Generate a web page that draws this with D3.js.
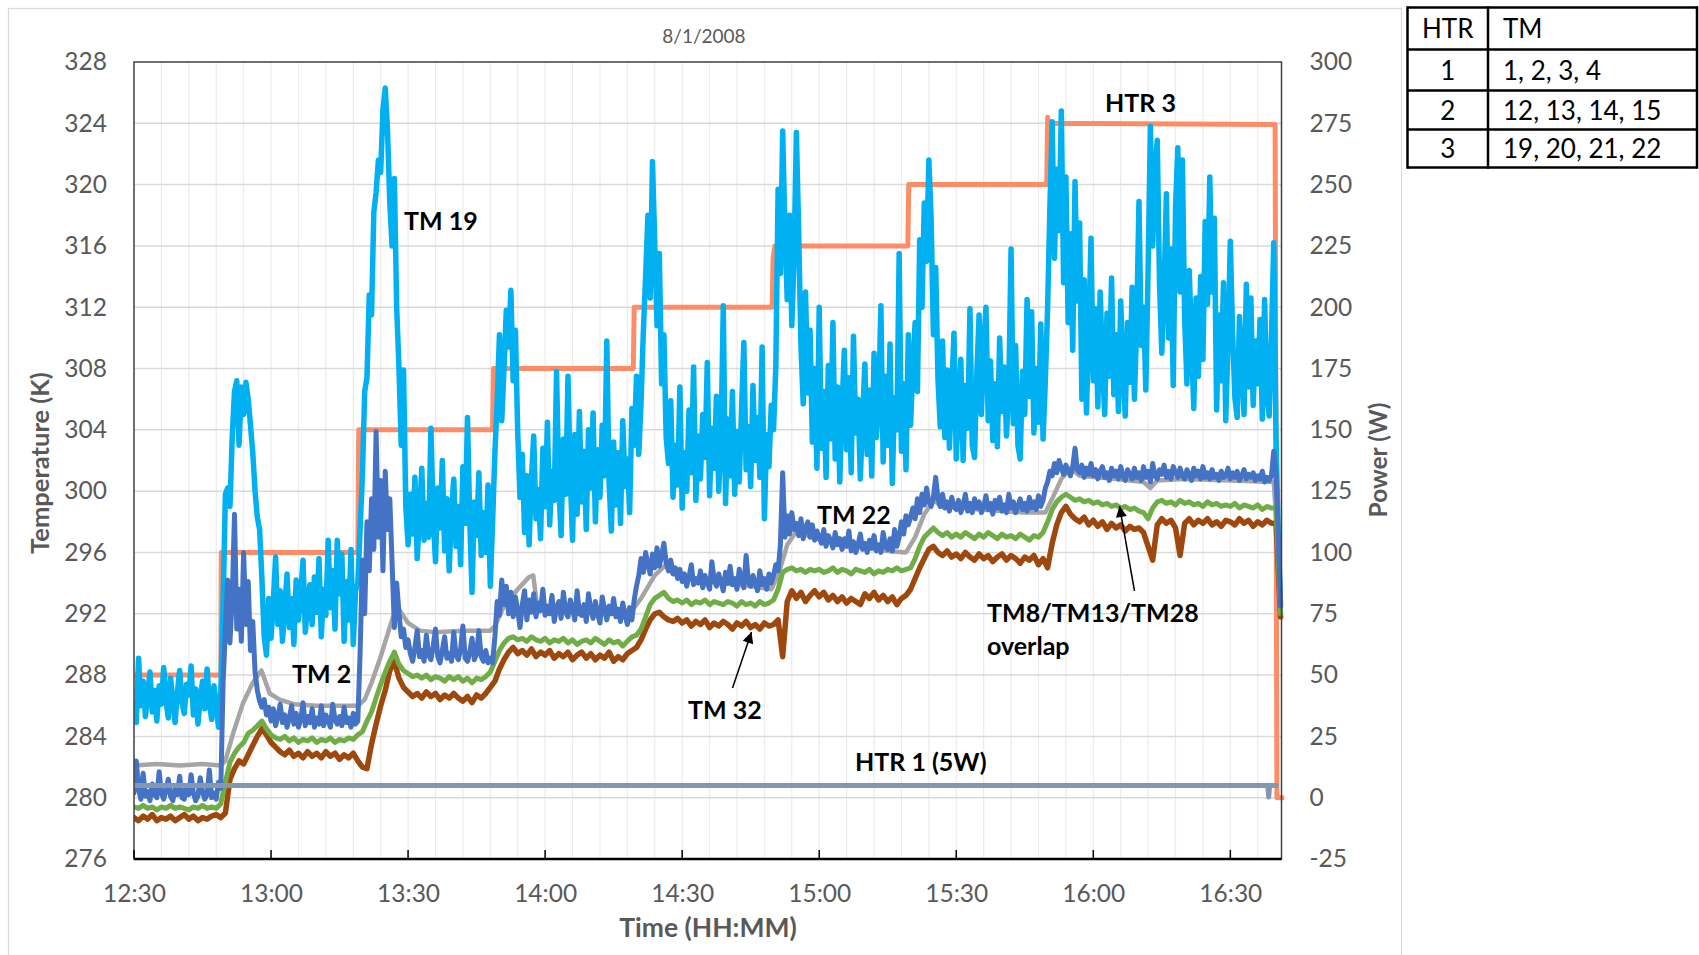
<!DOCTYPE html>
<html><head><meta charset="utf-8">
<script src="https://cdn.jsdelivr.net/npm/d3@7"></script>
<style>
html,body{margin:0;padding:0;background:#fff;}
svg{display:block;}
</style></head><body>
<svg id="chart" width="1699" height="955"></svg>
<script>
// ---------------- DATA ----------------
const chartTitle = "8/1/2008";
const tempTicks = [276,280,284,288,292,296,300,304,308,312,316,320,324,328];
const powerTicks = [-25,0,25,50,75,100,125,150,175,200,225,250,275,300];
const timeTickLabels = ["12:30","13:00","13:30","14:00","14:30","15:00","15:30","16:00","16:30"];
const startClock = [12,30];          // 12:30
const endMinute = 251.2;             // axis end (minutes after 12:30)

// TM 19 (K): each row = 5 minutes, samples every 0.5 min
const tm19Rows = [
[286.2,284.9,289.1,286.0,287.6,285.3,286.8,288.2,285.6,287.0],
[285.0,287.3,286.1,288.5,286.4,285.2,287.8,286.3,284.9,286.9],
[288.3,286.2,285.5,287.4,286.7,288.6,285.4,287.1,284.8,286.5],
[287.6,285.8,288.4,286.2,285.1,287.3,286.0,284.6,287.0,292.5],
[299.8,300.2,299.0,303.5,306.5,307.2,303.0,306.8,305.0,307.1],
[306.0,304.3,302.5,300.0,298.3,297.5,294.3,290.5,289.3,293.0],
[290.4,292.8,295.7,291.3,293.5,290.2,292.4,294.6,291.1,293.0],
[290.0,294.2,291.6,293.3,295.5,290.8,292.6,293.9,291.3,294.4],
[292.1,295.6,290.5,293.6,291.9,296.8,292.4,294.8,291.0,296.8],
[293.3,295.9,290.2,294.1,291.6,296.2,290.0,293.5,294.0,297.5],
[301.0,306.5,307.4,312.8,311.5,318.2,319.5,321.6,320.8,324.9],
[326.3,323.5,318.8,316.0,320.4,312.0,308.1,303.0,307.9,299.0],
[296.5,299.8,297.2,300.9,295.6,298.4,301.5,296.8,299.2,297.0],
[304.1,298.3,295.4,300.2,297.6,302.0,296.1,299.5,294.8,298.7],
[300.8,296.4,299.0,295.2,301.6,297.9,304.8,298.1,293.4,299.3],
[297.1,301.2,295.8,298.6,296.0,300.4,293.8,298.0,302.5,305.8],
[310.2,304.6,308.0,311.8,309.4,313.1,307.2,310.5,303.8,299.6],
[302.4,297.3,301.0,296.5,300.8,303.6,298.2,300.1,296.9,302.8],
[299.0,304.5,297.8,301.3,299.4,307.8,300.2,297.1,303.4,299.8],
[307.5,301.0,296.8,303.7,298.5,305.2,299.3,302.6,297.5,304.0],
[300.2,305.1,298.0,302.7,299.6,304.3,301.0,309.8,300.5,297.4],
[303.2,299.1,302.5,297.9,304.6,300.3,302.1,298.6,305.4,303.0],
[307.5,302.4,305.8,310.4,314.0,318.0,312.6,321.5,316.2,310.8],
[315.5,307.0,310.2,303.5,301.8,305.9,299.6,303.0,300.4,306.8],
[298.9,302.5,300.0,305.3,301.2,308.1,299.4,303.6,300.8,305.0],
[302.2,308.4,299.7,304.1,301.5,306.2,300.0,303.3,312.1,299.2],
[304.7,301.0,306.5,299.8,303.9,300.6,305.4,309.7,301.4,304.2],
[300.3,306.9,302.0,304.8,300.9,309.4,298.2,303.7,301.6,305.6],
[304.0,308.1,319.7,314.2,323.5,317.0,312.5,318.0,310.8,315.2],
[323.4,317.0,309.5,305.7,313.0,306.4,310.5,303.2,308.0,301.5],
[312.0,302.8,306.5,300.9,308.2,303.4,311.0,302.1,306.8,300.6],
[305.5,309.2,302.7,307.4,301.2,310.1,303.8,306.0,300.8,304.9],
[308.3,302.4,306.6,301.0,309.0,303.5,305.7,312.1,301.9,307.5],
[303.0,309.6,300.5,306.1,304.0,315.5,302.6,307.0,301.4,310.2],
[304.3,308.0,311.0,306.5,316.4,312.0,318.8,315.0,321.6,317.8],
[310.2,314.6,307.3,304.2,309.8,303.5,307.9,302.8,306.5,310.3],
[302.1,305.8,308.6,302.0,306.9,304.1,311.9,303.0,302.2,307.6],
[311.5,305.0,309.3,312.0,304.6,308.5,303.3,307.0,302.9,310.0],
[305.2,308.1,303.6,306.7,315.8,304.4,309.5,303.0,302.1,307.8],
[305.0,312.5,306.2,311.7,303.8,308.0,304.5,310.9,303.4,307.2],
[312.0,318.5,324.1,315.2,321.0,317.0,324.8,313.6,320.5,311.0],
[316.8,309.2,320.2,312.4,317.5,306.0,313.8,305.1,310.5,316.5],
[307.2,311.9,305.5,313.0,308.4,305.0,311.6,307.5,313.9,306.3],
[310.2,305.2,312.4,308.0,304.9,311.0,307.1,313.3,306.0,310.8],
[318.9,309.5,312.0,306.6,314.5,323.8,316.0,320.9,322.9,313.5],
[309.0,313.2,319.4,310.0,315.8,306.9,318.5,322.4,313.0,321.6],
[311.2,307.0,314.4,309.8,305.4,312.6,307.5,314.0,308.6,317.6],
[312.2,320.5,313.0,317.8,305.3,311.5,307.2,313.6,304.6,309.9],
[316.3,310.2,306.1,304.8,311.4,308.0,305.0,313.5,306.8,312.6],
[305.6,309.8,307.0,311.2,304.7,312.5,306.4,304.9,310.0,316.2],
[303.5,297.0,292.5]
];

// TM 22 (K): each row = 5 minutes, samples every 0.5 min
const tm22Rows = [
[280.3,282.4,280.6,279.9,281.6,280.1,280.4,279.8,280.9,280.2],
[280.0,281.7,280.3,279.9,280.5,281.2,280.1,279.8,280.6,280.2],
[281.4,280.0,279.9,280.7,280.2,281.5,280.3,279.8,280.1,281.3],
[280.4,279.9,280.2,281.8,280.0,280.3,279.9,281.0,280.6,287.5],
[290.9,294.2,290.1,293.0,298.5,291.0,293.6,290.2,296.0,291.3],
[294.1,289.6,291.5,288.2,287.0,286.3,285.9,286.4,285.4,285.9],
[285.0,285.8,284.7,285.3,286.1,284.9,285.4,284.6,285.2,286.0],
[284.8,285.5,284.6,285.1,286.2,284.7,285.3,284.9,285.8,284.6],
[285.2,284.8,286.0,284.7,285.4,285.0,284.6,286.1,285.1,284.8],
[285.3,284.7,285.9,284.9,285.2,284.6,285.5,284.8,285.0,289.5],
[295.5,292.0,298.0,294.8,299.5,296.2,303.9,297.0,300.7,294.8],
[301.3,297.5,299.5,295.3,291.1,294.0,292.1,290.5,291.0,289.8],
[290.3,289.4,288.9,289.8,290.9,289.2,289.6,288.9,290.6,289.3],
[289.0,289.9,291.0,289.2,288.8,289.6,290.5,289.1,289.4,288.9],
[290.8,289.3,289.0,289.7,291.2,289.1,288.9,289.5,290.4,289.0],
[289.4,290.9,289.2,288.9,289.6,288.8,289.1,288.8,290.5,292.8],
[291.9,294.2,292.6,293.8,292.0,293.4,291.8,293.1,292.2,291.1],
[292.6,293.5,291.6,292.9,292.1,293.3,291.8,292.7,292.2,293.6],
[291.9,292.5,292.0,293.2,291.5,292.4,292.8,291.7,293.4,292.1],
[291.8,292.9,292.3,291.6,293.5,292.0,291.9,292.6,291.5,293.3],
[292.2,291.7,292.8,292.0,291.4,293.1,292.3,291.6,292.5,292.0],
[293.0,291.8,292.3,291.5,292.7,291.9,291.3,292.4,291.6,292.9],
[293.8,294.5,295.6,294.7,296.0,295.2,294.6,295.9,295.0,296.3],
[295.1,295.8,296.6,295.3,294.8,295.5,294.6,295.0,294.3,294.9],
[294.1,294.6,293.8,294.4,295.2,293.9,294.3,294.0,294.8,293.7],
[294.5,294.0,293.6,295.4,294.2,293.8,294.6,294.1,293.5,294.7],
[294.0,295.1,293.9,294.3,293.6,294.9,294.2,293.7,295.8,294.1],
[293.8,294.5,294.0,293.5,294.8,293.9,294.3,293.6,294.6,294.0],
[294.5,295.2,294.8,296.5,301.2,297.0,298.4,297.2,298.6,297.5],
[297.9,297.1,298.2,296.9,297.6,298.0,297.0,297.8,296.8,297.4],
[297.0,296.6,297.5,296.4,297.1,296.8,296.3,297.3,296.5,296.9],
[296.2,296.9,296.4,297.4,296.1,296.7,296.0,296.5,297.2,296.2],
[296.6,296.0,296.8,296.3,297.1,296.1,296.5,296.0,297.3,296.4],
[296.2,296.9,296.1,297.5,296.4,297.0,298.0,297.2,298.4,297.8],
[298.3,298.9,298.2,299.5,298.6,299.8,299.1,300.2,299.3,299.0],
[299.6,300.9,299.5,299.0,299.8,298.9,299.3,298.7,299.6,299.0],
[298.8,299.4,298.6,299.1,299.8,298.7,299.2,298.6,299.5,298.9],
[299.3,298.6,299.0,299.7,298.8,299.2,298.5,299.4,298.9,299.6],
[298.7,299.1,298.6,299.8,298.9,299.3,298.6,299.0,299.5,298.8],
[299.2,298.7,299.6,298.9,299.3,298.8,299.7,299.0,299.4,300.2],
[300.6,301.3,301.0,301.8,301.2,302.0,301.5,301.1,301.7,301.3],
[301.0,301.6,302.8,301.4,301.2,301.7,300.9,301.5,301.1,301.8],
[301.0,301.4,300.8,301.3,301.6,300.9,301.2,300.7,301.5,301.0],
[301.3,300.8,301.6,301.0,300.7,301.4,301.1,300.8,301.5,300.9],
[301.2,300.7,301.6,300.9,301.3,300.6,301.8,301.0,300.8,301.4],
[301.1,301.7,300.9,301.3,300.8,301.6,301.2,300.9,301.5,301.0],
[300.8,301.4,301.1,300.7,301.5,301.0,301.3,300.8,301.6,300.9],
[301.2,300.8,301.4,300.9,301.1,300.7,301.3,300.9,301.0,301.5],
[300.8,301.2,300.9,301.3,300.7,301.0,301.4,300.8,301.1,300.9],
[301.2,300.7,301.0,300.8,301.3,300.6,300.9,300.7,301.0,302.6],
[301.0,297.0,292.5]
];

// TM8/TM13/TM28 (overlapping, K): each row = 10 minutes, samples every 1 min
const tm8Rows = [
[279.4,279.3,279.5,279.3,279.4,279.2,279.4,279.3,279.5,279.3],
[279.4,279.3,279.2,279.4,279.3,279.5,279.3,279.4,279.3,279.6],
[281.0,282.3,282.9,283.3,283.6,284.2,284.4,284.7,285.0,284.5],
[284.1,283.9,283.8,284.0,283.7,283.9,283.6,283.8,283.7,283.9],
[283.6,283.8,283.7,283.9,283.6,283.8,283.7,283.9,283.8,284.1],
[284.3,285.0,285.6,286.5,287.4,288.2,288.9,289.5,288.7,288.3],
[288.1,287.9,288.0,287.8,288.0,287.7,287.9,287.8,287.6,287.9],
[287.7,287.9,287.6,287.8,287.5,287.8,287.7,287.9,288.2,288.9],
[289.6,290.1,290.4,290.5,290.3,290.4,290.2,290.5,290.3,290.2],
[290.4,290.1,290.3,290.2,290.4,290.1,290.3,290.0,290.2,290.3],
[290.1,290.4,290.2,290.0,290.3,290.1,290.2,289.9,290.2,290.5],
[290.6,291.0,291.8,292.6,293.0,293.2,293.4,293.0,292.8,292.9],
[292.7,292.9,292.6,292.8,292.7,292.9,292.6,292.8,292.7,292.6],
[292.8,292.7,292.5,292.8,292.6,292.7,292.5,292.8,292.6,292.7],
[292.9,293.6,294.7,294.9,295.0,294.8,294.9,294.7,294.9,294.8],
[294.9,294.7,294.8,295.0,294.7,294.9,294.8,294.6,294.9,294.8],
[294.7,294.9,294.6,294.8,294.7,294.9,294.8,295.0,294.8,294.9],
[295.0,295.6,296.4,297.0,297.3,297.6,297.3,297.1,297.3,297.0],
[297.2,297.0,297.3,297.1,296.9,297.2,297.0,297.3,297.1,296.9],
[297.2,297.0,297.1,296.9,297.2,297.0,296.8,297.1,297.0,297.3],
[298.0,298.8,299.3,299.6,299.8,299.6,299.4,299.5,299.3,299.4],
[299.2,299.3,299.1,299.2,299.0,299.1,298.9,299.0,298.8,298.9],
[298.7,298.6,298.2,298.9,299.3,299.4,299.2,299.3,299.1,299.4],
[299.2,299.3,299.1,299.2,299.0,299.3,299.1,299.2,299.0,299.1],
[299.0,299.2,298.9,299.1,299.0,298.9,299.1,298.8,299.0,298.9],
[298.9,292.0]
];

// TM 32 (K): each row = 10 minutes, samples every 1 min
const tm32Rows = [
[278.7,278.5,278.8,278.6,278.9,278.5,278.7,278.6,278.8,278.5],
[278.7,278.9,278.6,278.8,278.5,278.7,278.6,278.8,278.9,278.7],
[279.0,281.2,281.9,282.4,282.2,282.8,283.4,284.0,284.5,284.1],
[283.6,283.3,283.0,282.8,283.1,282.7,282.9,282.6,283.0,282.7],
[282.9,282.6,283.0,282.7,282.9,282.5,282.8,282.6,282.9,282.4],
[282.0,281.9,283.5,284.8,286.0,287.0,288.3,288.9,287.8,287.2],
[286.9,286.6,286.8,286.5,286.9,286.6,286.8,286.4,286.7,286.5],
[286.8,286.5,286.3,286.6,286.2,286.7,286.5,286.8,287.2,287.6],
[288.4,289.0,289.5,289.8,289.4,289.6,289.3,289.7,289.2,289.5],
[289.3,289.6,289.1,289.4,289.2,289.5,289.0,289.3,289.5,289.1],
[289.4,289.0,289.3,289.1,289.5,288.9,289.2,289.0,289.4,289.6],
[289.8,290.3,291.0,291.6,292.0,292.1,291.8,291.6,291.5,291.7],
[291.4,291.6,291.2,291.5,291.3,291.6,291.1,291.4,291.2,291.5],
[291.3,291.0,291.4,291.2,291.5,291.1,291.3,291.0,291.4,291.2],
[291.3,291.6,289.2,292.8,293.5,293.0,293.4,292.8,293.2,293.5],
[293.1,293.4,292.9,293.2,292.8,293.1,292.7,293.0,292.8,292.6],
[293.3,293.0,293.4,292.9,293.2,292.8,293.1,292.6,293.0,293.2],
[293.6,294.3,295.0,295.6,296.2,296.4,296.0,295.8,296.1,295.7],
[295.9,295.6,296.0,295.7,295.5,295.9,295.6,295.8,295.4,295.7],
[295.9,295.5,295.8,295.6,295.3,295.7,295.5,295.8,295.2,295.6],
[295.0,296.6,297.8,298.6,299.0,298.5,298.2,298.0,298.3,297.8],
[298.1,297.7,298.0,297.5,297.9,297.6,297.8,297.4,297.7,297.5],
[297.6,297.3,296.4,295.5,297.8,298.2,297.9,298.1,297.6,295.8],
[297.9,298.2,297.8,298.1,297.9,298.2,297.8,298.0,297.7,298.1],
[298.0,297.8,298.2,297.9,298.1,297.7,298.0,297.8,298.1,297.9],
[297.9,291.8]
];

// TM 2 (K): [minute, value]
const tm2Points = [[0,282.1],[5,282.2],[10,282.1],[15,282.2],[19,282.1],[20,282.4],[21.7,284.2],[23.9,286.2],[26,287.5],[27.9,288.3],[29.7,286.8],[31.9,286.4],[35,286.1],[40,286.0],[45,286.0],[49,286.0],[50.5,286.4],[52,287.5],[54,289.2],[56.7,291.8],[58.2,292.2],[60,291.4],[62.6,290.9],[66,290.8],[72,290.9],[78,290.9],[79,291.2],[81,292.5],[84,293.6],[86.5,294.4],[87.4,294.5],[88.2,292.6],[90,292.4],[100,292.3],[109,292.2],[111,293.0],[114,294.5],[116.5,295.2],[118,294.6],[125,294.1],[135,293.8],[139.5,293.6],[141,294.5],[143,296.5],[145.5,297.6],[148,297.0],[155,296.5],[165,296.1],[169,296.0],[171,297.0],[173,298.5],[175,299.4],[177,299.0],[185,298.8],[195,298.6],[199.5,298.6],[201,299.5],[203,300.8],[205,301.5],[207,301.0],[215,300.8],[221,300.6],[222.5,300.2],[224,300.7],[230,300.8],[240,300.7],[249.5,300.6],[250.5,296.0],[251,292.3]];

// HTR 3 power (W): [minute, value]
const htr3Points = [[0,50],[19,50],[19.1,100],[49,100],[49.2,150],[78.5,150],[78.7,175],[109.3,175],[109.5,200],[139.7,200],[139.9,220],[140.3,225],[169.4,225],[169.6,250],[199.8,250],[200,277.5],[200.3,275],[249.8,274.5],[250.2,0],[251.4,0]];
// HTR 1 power (W): [minute, value]
const htr1Points = [[0,5],[248.2,5],[248.4,0.3],[248.6,5],[250.1,5]];

const tableHeader = ["HTR","TM"];
const tableRows = [["1","1, 2, 3, 4"],["2","12, 13, 14, 15"],["3","19, 20, 21, 22"]];

// ---------------- DRAWING ----------------
const FONT = "Lato, 'Open Sans', sans-serif";
const svg = d3.select("#chart").style("font-family", FONT);
const X0 = 134, X1 = 1281.5, Y0 = 62, Y1 = 859;

const base = new Date(2008, 7, 1, startClock[0], startClock[1]);
const tAt = m => new Date(base.getTime() + m * 60000);
const x = d3.scaleTime().domain([tAt(0), tAt(endMinute)]).range([X0, X1]);
const yT = d3.scaleLinear().domain([276, 328]).range([Y1, Y0]);
const yP = d3.scaleLinear().domain([-25, 300]).range([Y1, Y0]);

const fromRows = (rows, span, step) => rows.flatMap((r, i) => r.map((v, j) => ({ t: i * span + j * step, v })));
const fromPairs = p => p.map(([t, v]) => ({ t, v }));

svg.append("rect").attr("width", 1699).attr("height", 955).attr("fill", "#fff");
// outer chart border
svg.append("rect").attr("x", 8.5).attr("y", 8.5).attr("width", 1393).attr("height", 980)
  .attr("fill", "none").attr("stroke", "#D9D9D9").attr("stroke-width", 1.2);

// title
svg.append("text").attr("x", 704).attr("y", 43).attr("text-anchor", "middle")
  .attr("font-size", 19).attr("fill", "#595959").text(chartTitle);

// gridlines
const grid = svg.append("g");
const minorTimes = d3.range(6, endMinute, 6);
grid.selectAll(".vg").data(minorTimes).join("line")
  .attr("x1", d => x(tAt(d))).attr("x2", d => x(tAt(d)))
  .attr("y1", Y0).attr("y2", Y1).attr("stroke", "#EBEBEB").attr("stroke-width", 1.2);
grid.selectAll(".hg").data(tempTicks.slice(1, -1)).join("line")
  .attr("x1", X0).attr("x2", X1).attr("y1", d => yT(d)).attr("y2", d => yT(d))
  .attr("stroke", "#D9D9D9").attr("stroke-width", 1.5);

// clip
svg.append("clipPath").attr("id", "plotclip").append("rect")
  .attr("x", X0).attr("y", Y0 - 3).attr("width", X1 - X0 + 3).attr("height", Y1 - Y0 + 3);
const plot = svg.append("g").attr("clip-path", "url(#plotclip)");

const lineT = d3.line().x(d => x(tAt(d.t))).y(d => yT(d.v));
const lineP = d3.line().x(d => x(tAt(d.t))).y(d => yP(d.v));
function draw(data, gen, color, w) {
  plot.append("path").datum(data).attr("d", gen).attr("fill", "none")
    .attr("stroke", color).attr("stroke-width", w)
    .attr("stroke-linejoin", "round").attr("stroke-linecap", "round");
}
draw(fromPairs(htr3Points), lineP, "#FF8C66", 5);
draw(fromRows(tm19Rows, 5, 0.5), lineT, "#00B0F0", 5.5);
draw(fromPairs(tm2Points), lineT, "#A5A5A5", 4.5);
draw(fromRows(tm32Rows, 10, 1), lineT, "#9E480E", 5.5);
draw(fromRows(tm8Rows, 10, 1), lineT, "#70AD47", 5);
draw(fromRows(tm22Rows, 5, 0.5), lineT, "#4472C4", 5);
draw(fromPairs(htr1Points), lineP, "#8497B0", 5);

// plot border
svg.append("rect").attr("x", X0).attr("y", Y0).attr("width", X1 - X0).attr("height", Y1 - Y0)
  .attr("fill", "none").attr("stroke", "#404040").attr("stroke-width", 1.5);
// x axis line & ticks
svg.append("line").attr("x1", X0).attr("x2", X1).attr("y1", Y1).attr("y2", Y1)
  .attr("stroke", "#000").attr("stroke-width", 2.5);
const majorTimes = timeTickLabels.map((s, i) => i * 30);
svg.selectAll(".xt").data(majorTimes).join("line")
  .attr("x1", d => x(tAt(d))).attr("x2", d => x(tAt(d)))
  .attr("y1", Y1).attr("y2", Y1 - 9).attr("stroke", "#000").attr("stroke-width", 1.5);

// axes labels
const gL = svg.append("g").attr("transform", `translate(${X0},0)`)
  .call(d3.axisLeft(yT).tickValues(tempTicks).tickSize(0).tickPadding(27).tickFormat(d => String(d)));
const gR = svg.append("g").attr("transform", `translate(${X1},0)`)
  .call(d3.axisRight(yP).tickValues(powerTicks).tickSize(0).tickPadding(28).tickFormat(d => String(d)));
const gB = svg.append("g").attr("transform", `translate(0,${Y1})`)
  .call(d3.axisBottom(x).tickValues(majorTimes.map(tAt)).tickSize(0).tickPadding(26)
    .tickFormat((d, i) => timeTickLabels[i]));
[gL, gR, gB].forEach(g => {
  g.select(".domain").remove();
  g.selectAll("text").attr("font-size", 24.5).attr("fill", "#595959").attr("font-family", FONT);
});

// axis titles
svg.append("text").attr("transform", "translate(49,463) rotate(-90)").attr("text-anchor", "middle")
  .attr("font-size", 25.5).attr("font-weight", "bold").attr("fill", "#595959").text("Temperature (K)");
svg.append("text").attr("transform", "translate(1387,460) rotate(-90)").attr("text-anchor", "middle")
  .attr("font-size", 24.5).attr("font-weight", "bold").attr("fill", "#595959").text("Power (W)");
svg.append("text").attr("x", 708).attr("y", 937).attr("text-anchor", "middle")
  .attr("font-size", 26.5).attr("font-weight", "bold").attr("fill", "#595959").text("Time (HH:MM)");

// annotations
const ann = [
  ["TM 19", 404, 230], ["HTR 3", 1105, 112], ["TM 2", 292, 683], ["TM 22", 817, 524],
  ["TM 32", 688, 719], ["TM8/TM13/TM28", 987, 622], ["overlap", 987, 655], ["HTR 1 (5W)", 855, 771]
];
svg.selectAll(".ann").data(ann).join("text")
  .attr("x", d => d[1]).attr("y", d => d[2]).attr("font-size", 25).attr("font-weight", "bold")
  .attr("fill", "#000").text(d => d[0]);

svg.append("defs").append("marker").attr("id", "ah").attr("viewBox", "0 0 10 10")
  .attr("refX", 10).attr("refY", 5).attr("markerUnits", "userSpaceOnUse")
  .attr("markerWidth", 13).attr("markerHeight", 11).attr("orient", "auto")
  .append("path").attr("d", "M0,0 L10,5 L0,10 z").attr("fill", "#000");
[[732.5, 688, 751.5, 632], [1134.5, 591, 1119.5, 506]].forEach(a => {
  svg.append("line").attr("x1", a[0]).attr("y1", a[1]).attr("x2", a[2]).attr("y2", a[3])
    .attr("stroke", "#000").attr("stroke-width", 1.5).attr("marker-end", "url(#ah)");
});

// table
const TL = 1407.5, TC = 1488, TR = 1697, rowsY = [7.5, 49.5, 90.5, 129.5, 167.5];
const tb = svg.append("g");
const allRows = [tableHeader].concat(tableRows);
allRows.forEach((r, i) => {
  const cy = (rowsY[i] + rowsY[i + 1]) / 2 + 9.5;
  tb.append("text").attr("x", (TL + TC) / 2).attr("y", cy).attr("text-anchor", "middle")
    .attr("font-size", 26).attr("fill", "#000").text(r[0]);
  tb.append("text").attr("x", TC + 15).attr("y", cy).attr("font-size", 26).attr("fill", "#000").text(r[1]);
});
rowsY.forEach(yv => tb.append("line").attr("x1", TL).attr("x2", TR).attr("y1", yv).attr("y2", yv)
  .attr("stroke", "#000").attr("stroke-width", 2.5));
[TL, TC, TR].forEach(xv => tb.append("line").attr("x1", xv).attr("x2", xv)
  .attr("y1", rowsY[0] - 1.2).attr("y2", rowsY[rowsY.length - 1] + 1.2)
  .attr("stroke", "#000").attr("stroke-width", 2.5));
</script>
</body></html>
